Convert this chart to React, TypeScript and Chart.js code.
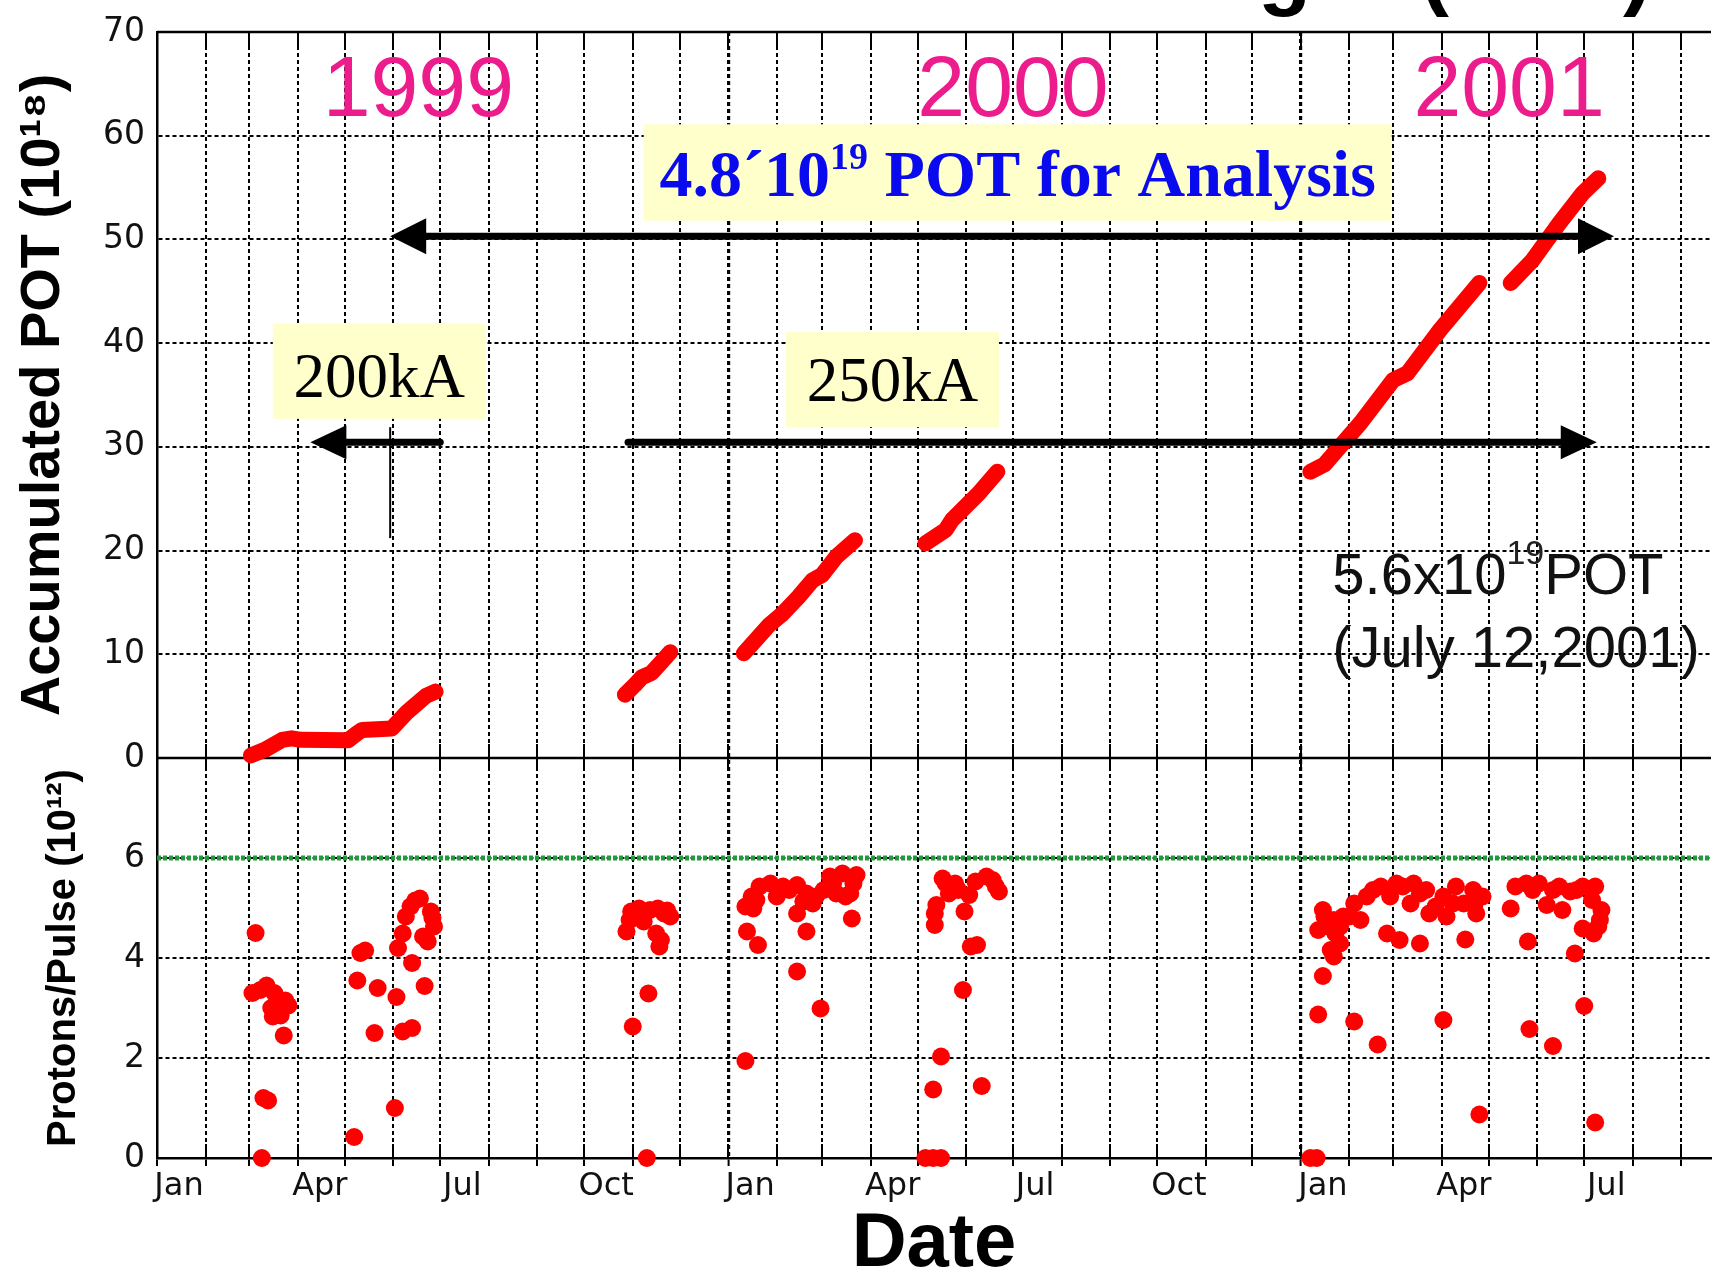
import React, { useEffect, useRef } from 'react';
import { Chart, registerables } from 'chart.js';

Chart.register(...registerables);

// ---------------- axis ranges & labels ----------------
const AXIS_START = '1999-01-01';
const AXIS_END = '2001-09-20';
const MONTH_TICK_LABELS = ['Jan', '', '', 'Apr', '', '', 'Jul', '', '', 'Oct', '', ''];
const YEAR_BOUNDARIES = ['2000-01-01', '2001-01-01'];
const POT_MIN = 0, POT_MAX = 70, POT_STEP = 10;
const PPP_MIN = 0, PPP_MAX = 8, PPP_STEP = 1;
const PPP_LABELLED = [0, 2, 4, 6];
const PPP_REFERENCE_LEVEL = 6;

// ---------------- upper panel: accumulated POT (10^18) ----------------
const potRunA_dates = ['1999-03-02', '1999-03-11', '1999-03-22', '1999-03-28', '1999-04-03', '1999-05-03', '1999-05-09', '1999-05-12', '1999-05-31', '1999-06-10', '1999-06-22', '1999-06-28'];
const potRunA_values = [0.25, 0.8, 1.75, 1.9, 1.75, 1.7, 2.4, 2.7, 2.85, 4.45, 6.0, 6.4];

const potRunB_dates = ['1999-10-27', '1999-11-02', '1999-11-07', '1999-11-13', '1999-11-19', '1999-11-25'];
const potRunB_values = [6.1, 7.0, 7.8, 8.2, 9.2, 10.2];

const potRunC_dates = ['2000-01-11', '2000-01-27', '2000-02-05', '2000-02-15', '2000-02-24', '2000-03-01', '2000-03-10', '2000-03-22'];
const potRunC_values = [10.1, 12.8, 13.95, 15.55, 17.15, 17.65, 19.4, 21.0];

const potRunD_dates = ['2000-05-06', '2000-05-19', '2000-05-23', '2000-06-09', '2000-06-21'];
const potRunD_values = [20.7, 22.0, 22.95, 25.5, 27.6];

const potRunE_dates = ['2001-01-07', '2001-01-16', '2001-02-08', '2001-03-01', '2001-03-10', '2001-03-31', '2001-04-25'];
const potRunE_values = [27.6, 28.3, 32.3, 36.45, 37.1, 41.3, 45.8];

const potRunF_dates = ['2001-05-15', '2001-05-29', '2001-06-15', '2001-06-30', '2001-07-10'];
const potRunF_values = [45.8, 48.0, 51.55, 54.45, 55.9];

// ---------------- lower panel: protons / pulse (10^12) ----------------
const ppp1999a_dates = ['1999-03-03', '1999-03-05', '1999-03-08', '1999-03-09', '1999-03-10', '1999-03-12', '1999-03-13', '1999-03-15', '1999-03-16', '1999-03-17', '1999-03-20', '1999-03-21', '1999-03-23', '1999-03-24', '1999-03-26'];
const ppp1999a_values = [3.3, 4.5, 3.36, 0.0, 1.2, 3.45, 1.15, 3.0, 2.83, 3.3, 3.09, 2.85, 2.45, 3.15, 3.05];

const ppp1999b_dates = ['1999-05-07', '1999-05-09', '1999-05-11', '1999-05-14', '1999-05-20', '1999-05-22', '1999-06-02', '1999-06-03', '1999-06-04', '1999-06-07', '1999-06-07', '1999-06-09', '1999-06-12', '1999-06-13', '1999-06-13', '1999-06-15', '1999-06-18', '1999-06-20', '1999-06-21', '1999-06-23', '1999-06-25', '1999-06-26', '1999-06-27'];
const ppp1999b_values = [0.42, 3.55, 4.1, 4.15, 2.5, 3.4, 1.0, 3.22, 4.2, 4.49, 2.53, 4.83, 5.03, 2.6, 3.9, 5.15, 5.19, 4.43, 3.44, 4.33, 4.93, 4.8, 4.63];

const ppp1999c_dates = ['1999-10-28', '1999-10-30', '1999-10-31', '1999-11-01', '1999-11-05', '1999-11-08', '1999-11-10', '1999-11-11', '1999-11-12', '1999-11-16', '1999-11-17', '1999-11-18', '1999-11-19', '1999-11-21', '1999-11-23', '1999-11-25'];
const ppp1999c_values = [4.53, 4.76, 4.93, 2.63, 4.99, 4.73, 0.0, 3.29, 4.96, 4.49, 4.99, 4.23, 4.36, 4.89, 4.95, 4.83];

const ppp2000a_dates = ['2000-01-12', '2000-01-16', '2000-01-17', '2000-01-19', '2000-01-21', '2000-01-28', '2000-02-01', '2000-02-05', '2000-02-09', '2000-02-14', '2000-02-14', '2000-02-18', '2000-02-20', '2000-02-24', '2000-02-26', '2000-03-02', '2000-03-06', '2000-03-08', '2000-03-10', '2000-03-14', '2000-03-16', '2000-03-19', '2000-03-21', '2000-03-23', '2000-03-20', '2000-02-20', '2000-01-13', '2000-01-20', '2000-02-14', '2000-02-29', '2000-01-12'];
const ppp2000a_values = [5.03, 5.23, 4.99, 5.16, 5.43, 5.49, 5.23, 5.43, 5.36, 5.46, 4.89, 5.13, 5.29, 5.09, 5.23, 5.36, 5.63, 5.49, 5.29, 5.69, 5.23, 5.29, 5.49, 5.66, 4.79, 4.53, 4.53, 4.26, 3.73, 2.99, 1.94];

const ppp2000b_dates = ['2000-05-06', '2000-05-11', '2000-05-11', '2000-05-12', '2000-05-12', '2000-05-13', '2000-05-16', '2000-05-16', '2000-05-17', '2000-05-19', '2000-05-21', '2000-05-25', '2000-05-27', '2000-05-30', '2000-05-31', '2000-06-03', '2000-06-04', '2000-06-07', '2000-06-08', '2000-06-11', '2000-06-14', '2000-06-18', '2000-06-20', '2000-06-22'];
const ppp2000b_values = [0.0, 0.0, 1.37, 4.89, 4.66, 5.06, 0.0, 2.03, 5.59, 5.49, 5.29, 5.49, 5.36, 3.36, 4.93, 5.26, 4.23, 5.53, 4.26, 1.44, 5.63, 5.56, 5.43, 5.33];

const ppp2001a_dates = ['2001-01-07', '2001-01-11', '2001-01-12', '2001-01-12', '2001-01-15', '2001-01-15', '2001-01-16', '2001-01-18', '2001-01-20', '2001-01-22', '2001-01-22', '2001-01-23', '2001-01-26', '2001-01-26', '2001-01-28', '2001-02-01', '2001-02-04', '2001-02-04', '2001-02-08', '2001-02-12', '2001-02-16', '2001-02-19', '2001-02-21', '2001-02-25', '2001-02-27', '2001-03-03', '2001-03-05', '2001-03-07', '2001-03-12', '2001-03-14', '2001-03-18', '2001-03-18', '2001-03-22', '2001-03-24', '2001-03-28', '2001-04-02', '2001-04-02', '2001-04-04', '2001-04-08', '2001-04-10', '2001-04-15', '2001-04-16', '2001-04-21', '2001-04-22', '2001-04-23', '2001-04-25', '2001-04-27'];
const ppp2001a_values = [0.0, 0.0, 4.56, 2.87, 4.96, 3.64, 4.83, 4.63, 4.16, 4.76, 4.03, 4.49, 4.63, 4.29, 4.83, 4.83, 5.09, 2.73, 4.76, 5.23, 5.36, 2.27, 5.43, 4.49, 5.23, 5.49, 4.36, 5.43, 5.09, 5.49, 5.29, 4.29, 5.36, 4.89, 5.03, 5.23, 2.76, 4.83, 5.09, 5.43, 5.09, 4.37, 5.36, 5.09, 4.89, 0.87, 5.23];

const ppp2001b_dates = ['2001-05-15', '2001-05-18', '2001-05-25', '2001-05-26', '2001-05-27', '2001-05-29', '2001-06-02', '2001-06-07', '2001-06-11', '2001-06-11', '2001-06-15', '2001-06-17', '2001-06-22', '2001-06-25', '2001-06-26', '2001-06-30', '2001-06-30', '2001-07-01', '2001-07-06', '2001-07-07', '2001-07-08', '2001-07-08', '2001-07-10', '2001-07-11', '2001-07-12'];
const ppp2001b_values = [4.99, 5.43, 5.49, 4.33, 2.58, 5.36, 5.49, 5.06, 5.36, 2.24, 5.43, 4.96, 5.33, 4.09, 5.36, 5.43, 4.59, 3.04, 5.16, 4.49, 5.43, 0.71, 4.63, 4.76, 4.96];

// ---------------- annotations (data coordinates) ----------------
const YEAR_LABELS = ['1999', '2000', '2001'];
const YEAR_LABEL_DATES = ['1999-06-17', '2000-07-01', '2001-05-14'];
const YEAR_LABEL_LEVEL = 61.9;

const ANALYSIS_BOX = { from: '1999-11-08', to: '2001-02-28', top: 61.1, bottom: 51.8, textLevel: 54.2 };
const ANALYSIS_ARROW = { from: '1999-05-30', to: '2001-07-20', level: 50.3 };
const KA200_BOX = { from: '1999-03-16', to: '1999-07-30', top: 41.9, bottom: 32.7, textLevel: 34.8, text: '200kA' };
const KA200_ARROW = { from: '1999-04-09', to: '1999-07-01', level: 30.45 };
const KA200_MARK = { at: '1999-05-30', top: 31.9, bottom: 21.2 };
const KA250_BOX = { from: '2000-02-07', to: '2000-06-22', top: 41.1, bottom: 31.9, textLevel: 34.4, text: '250kA' };
const KA250_ARROW = { from: '1999-10-29', to: '2001-07-09', level: 30.45 };
const TOTAL_NOTE = { at: '2001-01-21', line1Level: 15.8, line2Level: 8.8 };

const RED = '#ff0000';
const GREEN = '#22993a';
const PINK = '#ec1c8c';
const BLUE = '#0a0aee';
const YELLOW = '#ffffcc';
const TICK_FONT = '"DejaVu Sans", "Liberation Sans", sans-serif';
const SANS = '"Liberation Sans", Arial, sans-serif';
const SERIF = '"Liberation Serif", "Times New Roman", serif';

const BASE = Date.UTC(1999, 0, 1);
function day(s: string): number {
  const [y, m, d] = s.split('-').map(Number);
  return (Date.UTC(y, m - 1, d) - BASE) / 86400000;
}

const X_MIN = day(AXIS_START);
const X_MAX = day(AXIS_END);
const MONTH_STARTS: number[] = [];
for (let y = 1999; y <= 2001; y++) {
  for (let m = 0; m < 12; m++) {
    const v = (Date.UTC(y, m, 1) - BASE) / 86400000;
    if (v >= X_MIN && v < X_MAX) MONTH_STARTS.push(v);
  }
}
const YEAR_START_DAYS = YEAR_BOUNDARIES.map(day);

function toPoints(dates: string[], values: number[]) {
  return dates.map((d, i) => ({ x: day(d), y: values[i] }));
}

const POT_RUNS = [
  [potRunA_dates, potRunA_values],
  [potRunB_dates, potRunB_values],
  [potRunC_dates, potRunC_values],
  [potRunD_dates, potRunD_values],
  [potRunE_dates, potRunE_values],
  [potRunF_dates, potRunF_values],
] as [string[], number[]][];

const PPP_RUNS = [
  [ppp1999a_dates, ppp1999a_values],
  [ppp1999b_dates, ppp1999b_values],
  [ppp1999c_dates, ppp1999c_values],
  [ppp2000a_dates, ppp2000a_values],
  [ppp2000b_dates, ppp2000b_values],
  [ppp2001a_dates, ppp2001a_values],
  [ppp2001b_dates, ppp2001b_values],
] as [string[], number[]][];

type Part = { text: string; font: string; color: string; dy?: number };
function drawRich(ctx: CanvasRenderingContext2D, parts: Part[], x: number, y: number, align: 'left' | 'center') {
  let total = 0;
  for (const p of parts) {
    ctx.font = p.font;
    total += ctx.measureText(p.text).width;
  }
  let cx = align === 'center' ? x - total / 2 : x;
  ctx.textAlign = 'left';
  ctx.textBaseline = 'alphabetic';
  for (const p of parts) {
    ctx.font = p.font;
    ctx.fillStyle = p.color;
    ctx.fillText(p.text, cx, y + (p.dy || 0));
    cx += ctx.measureText(p.text).width;
  }
}

function arrowHead(ctx: CanvasRenderingContext2D, tipX: number, y: number, dir: number, len: number, half: number) {
  ctx.beginPath();
  ctx.moveTo(tipX, y);
  ctx.lineTo(tipX - dir * len, y - half);
  ctx.lineTo(tipX - dir * len, y + half);
  ctx.closePath();
  ctx.fill();
}

const framePlugin = {
  id: 'frame',
  beforeDatasetsDraw(chart: any) {
    const { ctx, chartArea: a } = chart;
    const xs = chart.scales.x;
    const sep = chart.scales.yTop.getPixelForValue(POT_MIN);
    ctx.save();
    ctx.strokeStyle = '#000';
    ctx.lineWidth = 2.5;
    ctx.beginPath();
    ctx.moveTo(a.left, a.top);
    ctx.lineTo(a.right, a.top);
    ctx.moveTo(a.left, sep);
    ctx.lineTo(a.right, sep);
    ctx.stroke();
    ctx.lineWidth = 2;
    ctx.beginPath();
    for (const t of xs.ticks) {
      const x = Math.round(xs.getPixelForValue(t.value));
      ctx.moveTo(x, a.top);
      ctx.lineTo(x, a.top + 14);
      ctx.moveTo(x, sep - 14);
      ctx.lineTo(x, sep + 12);
      ctx.moveTo(x, a.bottom - 14);
      ctx.lineTo(x, a.bottom);
    }
    ctx.stroke();
    ctx.restore();
  },
};

const annotationPlugin = {
  id: 'annotations',
  afterDatasetsDraw(chart: any) {
    const ctx: CanvasRenderingContext2D = chart.ctx;
    const xs = chart.scales.x;
    const yt = chart.scales.yTop;
    const px = (d: string) => xs.getPixelForValue(day(d));
    const py = (v: number) => yt.getPixelForValue(v);
    ctx.save();

    // partially visible title above the plot (only descenders show)
    ctx.fillStyle = '#000';
    ctx.textBaseline = 'alphabetic';
    ctx.textAlign = 'left';
    ctx.font = `bold 87px ${SANS}`;
    ctx.fillText('g', 1258, -1);
    ctx.fillText('(K2K)', 1420, -1);

    // year labels
    ctx.font = `86px ${SANS}`;
    ctx.fillStyle = PINK;
    ctx.textAlign = 'center';
    YEAR_LABELS.forEach((t, i) => ctx.fillText(t, px(YEAR_LABEL_DATES[i]), py(YEAR_LABEL_LEVEL)));

    // analysis box
    {
      const x1 = px(ANALYSIS_BOX.from), x2 = px(ANALYSIS_BOX.to);
      const y1 = py(ANALYSIS_BOX.top), y2 = py(ANALYSIS_BOX.bottom);
      ctx.fillStyle = YELLOW;
      ctx.fillRect(x1, y1, x2 - x1, y2 - y1);
      drawRich(ctx, [
        { text: '4.8\u00B410', font: `bold 66px ${SERIF}`, color: BLUE },
        { text: '19', font: `bold 38px ${SERIF}`, color: BLUE, dy: -27 },
        { text: ' POT for Analysis', font: `bold 66px ${SERIF}`, color: BLUE },
      ], (x1 + x2) / 2, py(ANALYSIS_BOX.textLevel), 'center');
    }

    // kA boxes
    for (const b of [KA200_BOX, KA250_BOX]) {
      const x1 = px(b.from), x2 = px(b.to);
      const y1 = py(b.top), y2 = py(b.bottom);
      ctx.fillStyle = YELLOW;
      ctx.fillRect(x1, y1, x2 - x1, y2 - y1);
      ctx.fillStyle = '#000';
      ctx.font = `63px ${SERIF}`;
      ctx.textAlign = 'center';
      ctx.textBaseline = 'alphabetic';
      ctx.fillText(b.text, (x1 + x2) / 2, py(b.textLevel));
    }

    // arrows
    ctx.fillStyle = '#000';
    ctx.strokeStyle = '#000';
    ctx.lineWidth = 7;
    const HL = 36, HH = 18;
    {
      const y = py(ANALYSIS_ARROW.level);
      const xl = px(ANALYSIS_ARROW.from), xr = px(ANALYSIS_ARROW.to);
      ctx.lineCap = 'butt';
      ctx.beginPath();
      ctx.moveTo(xl + HL - 2, y);
      ctx.lineTo(xr - HL + 2, y);
      ctx.stroke();
      arrowHead(ctx, xl, y, -1, HL, HH);
      arrowHead(ctx, xr, y, 1, HL, HH);
    }
    {
      const y = py(KA200_ARROW.level);
      const xl = px(KA200_ARROW.from), xr = px(KA200_ARROW.to);
      ctx.lineCap = 'round';
      ctx.beginPath();
      ctx.moveTo(xl + HL - 2, y);
      ctx.lineTo(xr, y);
      ctx.stroke();
      arrowHead(ctx, xl, y, -1, HL, 17);
    }
    {
      const y = py(KA250_ARROW.level);
      const xl = px(KA250_ARROW.from), xr = px(KA250_ARROW.to);
      ctx.lineCap = 'round';
      ctx.beginPath();
      ctx.moveTo(xl, y);
      ctx.lineTo(xr - HL + 2, y);
      ctx.stroke();
      arrowHead(ctx, xr, y, 1, HL, 17);
    }
    {
      const x = px(KA200_MARK.at);
      ctx.lineWidth = 2;
      ctx.lineCap = 'butt';
      ctx.beginPath();
      ctx.moveTo(x, py(KA200_MARK.top));
      ctx.lineTo(x, py(KA200_MARK.bottom));
      ctx.stroke();
    }

    // total note
    {
      const x = px(TOTAL_NOTE.at);
      drawRich(ctx, [
        { text: '5.6x10', font: `58px ${SANS}`, color: '#111' },
        { text: '19', font: `34px ${SANS}`, color: '#222', dy: -30 },
        { text: 'POT', font: `58px ${SANS}`, color: '#111' },
      ], x, py(TOTAL_NOTE.line1Level), 'left');
      drawRich(ctx, [
        { text: '(July 12,2001)', font: `58px ${SANS}`, color: '#111' },
      ], x, py(TOTAL_NOTE.line2Level), 'left');
    }
    ctx.restore();
  },
};

export default function App() {
  const ref = useRef<HTMLCanvasElement>(null);
  useEffect(() => {
    const canvas = ref.current;
    if (!canvas) return;
    const datasets: any[] = [];
    for (const [d, v] of POT_RUNS) {
      datasets.push({
        type: 'line',
        label: 'Accumulated POT',
        yAxisID: 'yTop',
        data: toPoints(d, v),
        borderColor: RED,
        backgroundColor: RED,
        borderWidth: 16,
        borderCapStyle: 'round',
        borderJoinStyle: 'round',
        pointRadius: 0,
        tension: 0,
        clip: false,
      });
    }
    datasets.push({
      type: 'line',
      label: 'reference',
      yAxisID: 'yBot',
      data: [{ x: X_MIN, y: PPP_REFERENCE_LEVEL }, { x: X_MAX, y: PPP_REFERENCE_LEVEL }],
      borderColor: GREEN,
      borderWidth: 5,
      borderDash: [4, 2],
      pointRadius: 0,
      clip: false,
    });
    for (const [d, v] of PPP_RUNS) {
      datasets.push({
        type: 'scatter',
        label: 'Protons/Pulse',
        yAxisID: 'yBot',
        data: toPoints(d, v),
        backgroundColor: RED,
        borderWidth: 0,
        pointRadius: 9,
        pointHoverRadius: 9,
        clip: false,
      });
    }

    const chart = new Chart(canvas, {
      type: 'scatter',
      data: { datasets },
      options: {
        responsive: false,
        maintainAspectRatio: false,
        animation: false,
        devicePixelRatio: 1,
        events: [],
        layout: { padding: { top: 32, left: 0, right: 0, bottom: 0 } },
        plugins: {
          legend: { display: false },
          tooltip: { enabled: false },
          title: { display: false },
        },
        scales: {
          x: {
            type: 'linear',
            position: 'bottom',
            min: X_MIN,
            max: X_MAX,
            afterBuildTicks: (s: any) => {
              s.ticks = MONTH_STARTS.map((v) => ({ value: v }));
            },
            afterFit: (s: any) => {
              s.height = 119;
            },
            ticks: {
              autoSkip: false,
              maxRotation: 0,
              minRotation: 0,
              labelOffset: 22,
              padding: 1,
              color: '#111',
              font: { family: TICK_FONT, size: 32 },
              callback: (_v: any, i: number) => MONTH_TICK_LABELS[i % 12],
            },
            grid: {
              color: '#000',
              lineWidth: (c: any) => (c.tick && YEAR_START_DAYS.includes(c.tick.value) ? 3.2 : 2),
              drawTicks: true,
              tickLength: 8,
              tickWidth: 2,
              tickColor: '#000',
            },
            border: { display: true, color: '#000', width: 2.5, dash: [4, 3] },
            title: {
              display: true,
              text: 'Date',
              color: '#000',
              font: { family: SANS, size: 76, weight: 'bold', lineHeight: 0.8 },
              padding: { top: 0, bottom: 2 },
            },
          },
          // lower panel (defined first so it is placed below in the stack)
          yBot: {
            type: 'linear',
            position: 'left',
            stack: 'panels',
            stackWeight: 400,
            min: PPP_MIN,
            max: PPP_MAX,
            afterFit: (s: any) => {
              s.width = 157;
            },
            ticks: {
              stepSize: PPP_STEP,
              padding: 12,
              color: '#111',
              font: { family: TICK_FONT, size: 33 },
              callback: (v: any) => (PPP_LABELLED.includes(Number(v)) ? String(v) : ''),
            },
            grid: { color: '#000', lineWidth: 2, drawTicks: false },
            border: { display: true, color: '#000', width: 2.5, dash: [4, 3] },
            title: {
              display: true,
              text: 'Protons/Pulse (10\u00B9\u00B2)',
              color: '#000',
              font: { family: SANS, size: 40, weight: 'bold', lineHeight: 1 },
              padding: { top: 44, bottom: 0 },
            },
          },
          yTop: {
            type: 'linear',
            position: 'left',
            stack: 'panels',
            stackWeight: 726,
            min: POT_MIN,
            max: POT_MAX,
            afterFit: (s: any) => {
              s.width = 157;
            },
            ticks: {
              stepSize: POT_STEP,
              padding: 12,
              color: '#111',
              font: { family: TICK_FONT, size: 33 },
              callback: (v: any) => String(v),
            },
            grid: { color: '#000', lineWidth: 2, drawTicks: false },
            border: { display: true, color: '#000', width: 2.5, dash: [4, 3] },
            title: {
              display: true,
              text: 'Accumulated POT (10\u00B9\u2078)',
              color: '#000',
              font: { family: SANS, size: 56, weight: 'bold', lineHeight: 1 },
              padding: { top: 16, bottom: 0 },
            },
          },
        },
      } as any,
      plugins: [framePlugin, annotationPlugin],
    });
    return () => chart.destroy();
  }, []);

  return (
    <div style={{ position: 'fixed', left: 0, top: 0, width: 1720, height: 1277, background: '#fff', overflow: 'hidden' }}>
      <canvas ref={ref} width={1720} height={1277} style={{ display: 'block', width: 1720, height: 1277 }} />
    </div>
  );
}
